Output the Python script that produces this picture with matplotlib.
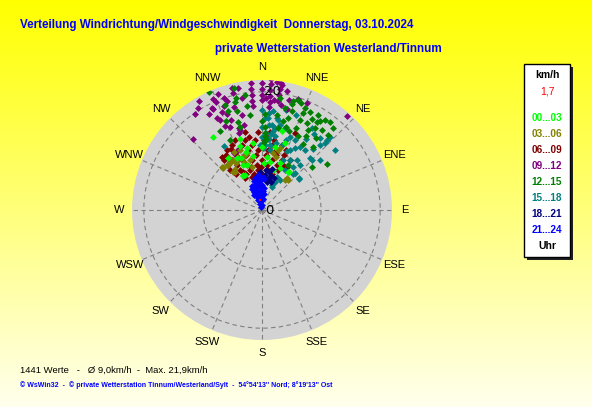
import numpy as np
import matplotlib
matplotlib.use("Agg")
from matplotlib import pyplot as plt
from matplotlib.patches import Rectangle

W, H = 592, 407

# Windrichtung (Grad) / Geschwindigkeit (km/h) je 3-Stunden-Block
dir_00 = [326, 327, 341, 346, 331, 16, 14, 337, 345, 12, 35, 23, 332, 351, 2, 334, 341, 34, 21, 334, 19, 0,
          343, 5, 352, 10, 338]
spd_00 = [14.8, 10.5, 11.4, 10.8, 6.5, 7.0, 13.7, 8.3, 10.2, 10.9, 7.9, 7.7, 6.7, 9.2, 7.9, 6.6, 8.0, 7.8, 8.6, 9.8, 12.0, 10.7,
          12.5, 9.0, 11.5, 8.2, 9.5]

dir_03 = [317, 323, 326, 330, 345, 346, 347, 11, 38, 323, 331, 336, 334, 15, 37, 340, 339, 15, 16, 41, 327, 317, 322, 325,
          328, 333, 342]
spd_03 = [10.0, 8.1, 9.6, 9.8, 10.0, 8.7, 7.5, 9.8, 6.8, 9.6, 9.0, 9.9, 11.0, 10.5, 6.4, 10.8, 8.7, 9.3, 10.9, 6.8, 8.3, 9.8, 9.6, 7.9,
          10.4, 9.4, 9.6]

dir_06 = [348, 357, 6,
          339, 346, 354, 2, 10,
          335, 343, 351, 0, 9, 17,
          330, 338, 347, 356, 6, 15, 22,
          327, 335, 344, 354, 4, 14, 22,
          323, 329, 338, 349, 0, 11, 22, 29,
          323, 331, 342, 354, 6, 18,
          321, 331, 343, 354, 8, 22,
          324, 336, 347, 0, 15,
          332, 348, 5,
          23, 323, 326, 30, 334, 343,
          350, 3, 12, 340, 358, 26, 333, 345]
spd_06 = [13.5, 13.2, 13.3,
          12.7, 12.2, 11.9, 11.9, 12.1,
          12.1, 11.5, 11.1, 11.0, 11.1, 11.5,
          11.7, 11.0, 10.4, 10.2, 10.2, 10.5, 11.0,
          11.1, 10.3, 9.7, 9.4, 9.3, 9.6, 10.0,
          10.6, 9.9, 9.1, 8.6, 8.5, 8.6, 9.1, 9.7,
          9.6, 8.7, 8.0, 7.7, 7.7, 8.0,
          8.7, 7.7, 7.1, 6.8, 6.9, 7.3,
          7.5, 6.7, 6.2, 6.1, 6.3,
          6.1, 5.5, 5.4,
          14.1, 11.3, 9.8, 8.5, 7.2, 5.9,
          12.6, 12.6, 10.0, 9.6, 7.2, 8.3, 11.6, 7.5]

dir_09 = [355, 355, 355, 355, 355, 0, 0, 0, 0, 4, 4, 4, 4, 4, 4, 8.5, 8.5, 8.5, 8.5,
          339, 336, 325, 316, 346, 341, 334, 338, 341, 345, 334, 42, 23, 334, 346, 340, 340, 335,
          339, 343, 334, 337, 14, 14, 10, 344, 348, 348, 328, 6.5, 9, 338,
          331, 336, 342, 349, 350, 2, 6, 12, 18, 345, 330]
spd_09 = [21.6, 20.6, 19.6, 18.6, 17.6, 21.5, 20.5, 19.5, 18.6, 22.3, 21.3, 20.3, 19.3, 18.3, 17.5, 21.7, 20.7, 19.7, 18.7,
          21.0, 20.5, 19.9, 16.8, 20.4, 20.0, 19.1, 17.9, 16.1, 14.1, 17.3, 21.4, 19.6, 10.7, 21.3, 18.7, 17.2, 16.8,
          15.1, 13.6, 19.2, 19.9, 19.2, 17.7, 18.1, 14.4, 14.7, 16.5, 20.4, 21.8, 21.5, 10.9,
          18.5, 15.5, 19.4, 21.0, 19.2, 19.0, 18.8, 20.6, 19.8, 18.0, 21.3]

dir_12 = [336, 347, 9, 16, 20, 23, 29, 33, 27, 41, 26, 17, 13, 19, 32, 31, 39, 49, 16, 332, 346, 345,
          347, 346, 345, 352, 0, 2, 9, 11, 55, 30, 16, 32, 33, 2, 3, 2, 2, 2.5, 341, 338,
          18, 23, 26, 30.5, 35, 37.7, 36.9, 41.3, 22.9, 22.5, 29.9, 36.9, 12.7, 15.8, 340.6, 351.6, 352.8, 335.4]
spd_12 = [21.9, 21.2, 19.2, 18.6, 19.2, 17.8, 17.6, 16.5, 16.6, 18.4, 13.9, 17.5, 15.5, 14.2, 17.6, 14.6, 13.8, 11.1, 14.7, 15.1, 18.9, 14.6,
          19.5, 17.3, 15.5, 17.7, 15.0, 16.2, 16.3, 14.2, 13.5, 8.8, 19.2, 13.1, 17.9, 13.0, 12.0, 11.5, 14.0, 12.5, 17.7, 16.2,
          19.6, 18.8, 18.5, 18.7, 18.6, 18.8, 16.9, 16.9, 16.6, 15.0, 15.6, 15.3, 17.7, 16.2, 18.9, 19.7, 16.2, 13.0]

dir_15 = [13.5, 21, 25, 31, 34, 43, 49, 45, 35, 23, 42, 31, 329, 0, 0, 12, 7.6, 16, 19, 43, 36, 49, 23, 24, 358, 2.6,
          9, 2, 5, 8, 3, 6, 0, 9, 4, 7, 1, 10, 6.5, 10, 16, 23, 32, 39, 43, 43, 28, 40, 7, 12, 50, 21, 41,
          3.7, 6.7, 4.9, 17.1, 25, 35.6, 40.2, 29.9, 24.9, 29.2, 41.7, 50.6, 31.4, 19.7]
spd_15 = [17.4, 13.3, 13.1, 12.5, 15.6, 16.2, 13.0, 11.9, 10.3, 9.2, 8.4, 5.9, 12.6, 17.0, 12.4, 14.7, 10.3, 7.0, 12.6, 12.0, 9.0, 8.2, 4.3, 6.2, 11.0, 11.0,
          14.1, 15.5, 14.5, 13.5, 13.0, 12.0, 14.0, 15.8, 16.5, 11.0, 10.5, 12.8, 16.8, 15.5, 14.4, 10.8, 14.1, 15.7, 15.6, 16.8, 11.9, 13.4, 12.9, 11.6, 8.1, 4.6, 8.0,
          15.6, 14.5, 12.0, 11.5, 11.2, 12.5, 10.0, 7.8, 5.2, 9.7, 14.8, 16.0, 16.3, 17.1]

dir_18 = [8, 12, 15, 10, 17, 6, 14, 20, 11, 357, 5]
spd_18 = [5.2, 5.6, 6.0, 6.5, 5.0, 6.8, 7.2, 5.8, 4.8, 6.5, 6.0]

dir_21 = [350, 0, 340, 335, 345, 355, 5, 340, 350, 0, 333, 342, 351, 359, 6, 337, 347, 356, 3,
          334, 341, 349, 357, 5, 338, 346, 354, 1, 345, 352, 359, 4, 348, 356, 2, 353]
spd_21 = [0.6, 0.8, 1.0, 1.8, 1.7, 1.6, 1.8, 2.2, 2.3, 2.1, 2.8, 2.7, 2.9, 2.6, 2.8, 3.3, 3.2, 3.4, 3.3,
          3.9, 3.8, 4.0, 3.9, 3.8, 4.4, 4.5, 4.4, 4.3, 5.0, 5.1, 5.0, 5.2, 5.5, 5.7, 5.6, 6.0]

bands = ["00...03", "03...06", "06...09", "09...12", "12...15", "15...18", "18...21", "21...24"]
band_colors = ["#00ff00", "#808000", "#800000", "#800080", "#008000", "#008080", "#000080", "#0000ff"]
band_data = [(dir_00, spd_00), (dir_03, spd_03), (dir_06, spd_06), (dir_09, spd_09),
             (dir_12, spd_12), (dir_15, spd_15), (dir_18, spd_18), (dir_21, spd_21)]
draw_order = [2, 5, 3, 4, 1, 0, 6, 7]

current_dir, current_spd = 350, 1.7
compass = ["N", "NNE", "NE", "ENE", "E", "ESE", "SE", "SSE",
           "S", "SSW", "SW", "WSW", "W", "WNW", "NW", "NNW"]
rmax = 22

fig = plt.figure(figsize=(W / 100, H / 100), dpi=100)

# Hintergrund: Verlauf gelb -> hellgelb
bg = fig.add_axes([0, 0, 1, 1], zorder=-10)
grad = np.linspace(0, 1, 256)
img = np.ones((256, 1, 3))
img[:, 0, 2] = grad * 0.93
bg.imshow(img, aspect="auto", extent=[0, 1, 0, 1])
bg.axis("off")

cx, cy, rad = 262, 210, 130
ax = fig.add_axes([(cx - rad) / W, (H - cy - rad) / H, 2 * rad / W, 2 * rad / H], projection="polar")
ax.set_theta_zero_location("N")
ax.set_theta_direction(-1)
ax.set_ylim(0, rmax)
ax.set_facecolor("#d3d3d3")
ax.spines["polar"].set_visible(False)
ax.set_rticks([10, 20])
ax.set_yticklabels([])
ax.set_thetagrids(np.arange(0, 360, 22.5), labels=[])
ax.grid(True, color="#808080", linestyle=(0, (4, 3)), linewidth=0.8)

for i in draw_order:
    d, s = band_data[i]
    ax.plot(np.deg2rad(d), s, linestyle="none", marker="D", markersize=3.5,
            markeredgewidth=0, color=band_colors[i], zorder=3)
ax.plot(np.deg2rad(current_dir), current_spd, linestyle="none", marker="s", markersize=1.5,
        markeredgewidth=0, color="red", zorder=4)

ax.annotate("0", xy=(0, 0), xytext=(2, 0), textcoords="offset points", va="center", ha="left", fontsize=9.5)
ax.annotate("20", xy=(0, 20), xytext=(1.5, 0), textcoords="offset points", va="center", ha="left", fontsize=9.5)

for k, name in enumerate(compass):
    ax.text(np.deg2rad(k * 22.5), 24.2, name, ha="center", va="center", fontsize=8,
            family="Liberation Sans", clip_on=False)

def ftext(x, y, s, **kw):
    fig.text(x / W, 1 - y / H, s, **kw)

sans = "Liberation Sans"
ftext(20, 25, "Verteilung Windrichtung/Windgeschwindigkeit  Donnerstag, 03.10.2024",
      color="#0000ff", fontsize=8.4, fontweight="bold", family=sans, va="center")
ftext(215, 49, "private Wetterstation Westerland/Tinnum",
      color="#0000ff", fontsize=8.4, fontweight="bold", family=sans, va="center")
ftext(20, 370, "1441 Werte   -   \u00d8 9,0km/h  -  Max. 21,9km/h",
      color="black", fontsize=6.8, family=sans, va="center")
ftext(20, 385, "\u00a9 WsWin32  -  \u00a9 private Wetterstation Tinnum/Westerland/Sylt  -  54\u00b054'13'' Nord; 8\u00b019'13'' Ost",
      color="#0000ff", fontsize=5, fontweight="bold", family=sans, va="center")

# Legendenkasten mit Schatten
bx0, by0, bx1, by1 = 524, 64, 570, 257
fig.patches.append(Rectangle(((bx0 + 3) / W, 1 - (by1 + 3) / H), (bx1 - bx0) / W, (by1 - by0) / H,
                             transform=fig.transFigure, facecolor="#202020", edgecolor="none", zorder=1))
fig.patches.append(Rectangle((bx0 / W, 1 - by1 / H), (bx1 - bx0) / W, (by1 - by0) / H,
                             transform=fig.transFigure, facecolor="white", edgecolor="black", linewidth=1, zorder=2))
lx = 547
ftext(lx, 75, "km/h", ha="center", va="center", fontsize=7.5, fontweight="bold", family=sans, zorder=3)
ftext(lx, 92, "1,7", ha="center", va="center", fontsize=7.5, color="red", family=sans, zorder=3)
for i, lab in enumerate(bands):
    ftext(lx, 118 + i * 16, lab, ha="center", va="center", fontsize=7.2, fontweight="bold",
          color=band_colors[i], family=sans, zorder=3)
ftext(lx, 246, "Uhr", ha="center", va="center", fontsize=7.5, fontweight="bold", family=sans, zorder=3)

fig.savefig("out.png", dpi=100)
